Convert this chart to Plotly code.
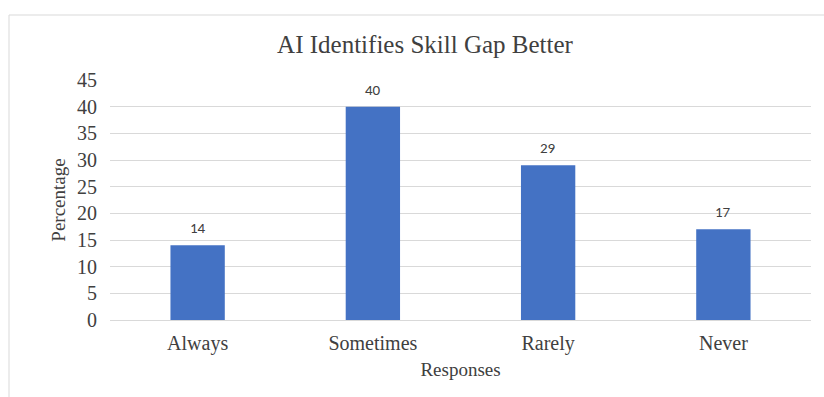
import plotly.graph_objects as go

categories = ["Always", "Sometimes", "Rarely", "Never"]
values = [14, 40, 29, 17]
y_ticks = [0, 5, 10, 15, 20, 25, 30, 35, 40, 45]

W, H = 824, 397
L, R, T, B = 110, 13, 80, 77
pw = W - L - R
ph = H - T - B

SERIF = "Liberation Serif, Times New Roman, serif"

fig = go.Figure(go.Bar(
    x=categories, y=values,
    marker=dict(color="#4472C4", line=dict(width=0)),
))

# data labels above bars
for c, v in zip(categories, values):
    fig.add_annotation(x=c, y=v, text=str(v), showarrow=False,
                       yanchor="bottom", yshift=6,
                       font=dict(family="Carlito, Liberation Sans, sans-serif", size=15, color="#404040"))

fig.update_layout(
    width=W, height=H,
    margin=dict(l=L, r=R, t=T, b=B),
    paper_bgcolor="white", plot_bgcolor="white",
    bargap=0.69,
    showlegend=False,
    title=dict(text="AI Identifies Skill Gap Better", xref="container", x=425 / W, xanchor="center",
               yref="container", y=1 - 44 / H, yanchor="middle",
               font=dict(family=SERIF, size=25, color="#404040")),
    xaxis=dict(
        title=dict(text="Responses", standoff=8,
                   font=dict(family=SERIF, size=19, color="#404040")),
        tickfont=dict(family=SERIF, size=20, color="#404040"),
        ticklabelstandoff=5,
        showline=True, linecolor="#d9d9d9", linewidth=1,
        ticks="", showgrid=False,
    ),
    yaxis=dict(
        title=dict(text="Percentage", standoff=6,
                   font=dict(family=SERIF, size=19, color="#404040")),
        range=[0, 45], tickvals=y_ticks,
        tickfont=dict(family=SERIF, size=20, color="#404040"),
        ticklabelstandoff=12,
        showgrid=True, gridcolor="#d9d9d9", gridwidth=1,
        zeroline=False, ticks="", ticklen=0,
    ),
)

# chart-area frame (light border at top/left, extending beyond the window)
fig.add_shape(type="rect", xref="paper", yref="paper",
              x0=(9 - L) / pw, x1=(W + 20 - L) / pw,
              y0=-(H + 20 - T - ph) / ph, y1=1 + (T - 15) / ph,
              line=dict(color="#d9d9d9", width=1), fillcolor="rgba(0,0,0,0)", layer="below")

fig.write_html("out.html")
